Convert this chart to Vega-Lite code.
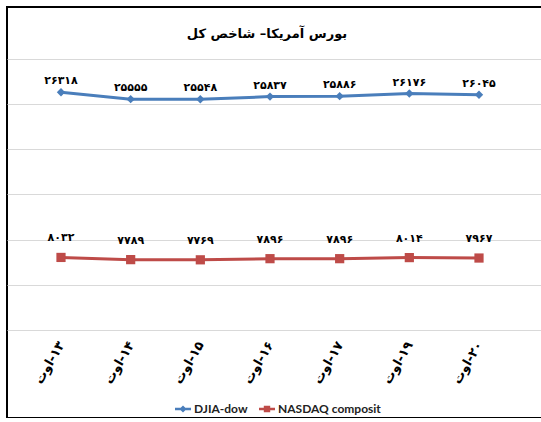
{
  "$schema": "https://vega.github.io/schema/vega-lite/v6.json",
  "width": 540,
  "height": 411,
  "autosize": "none",
  "padding": {"left": 7, "top": 7, "right": 0, "bottom": 0},
  "background": "white",
  "title": {"text": "بورس آمریکا– شاخص کل", "offset": -34, "dx": -10, "font": "DejaVu Sans", "fontSize": 13, "fontWeight": "bold", "anchor": "middle", "color": "black"},
  "data": {"values": [
    {"date": "\u200f۱۳-اوت", "series": "DJIA-dow", "value": 26318, "label": "۲۶۳۱۸"},
    {"date": "\u200f۱۴-اوت", "series": "DJIA-dow", "value": 25555, "label": "۲۵۵۵۵"},
    {"date": "\u200f۱۵-اوت", "series": "DJIA-dow", "value": 25548, "label": "۲۵۵۴۸"},
    {"date": "\u200f۱۶-اوت", "series": "DJIA-dow", "value": 25837, "label": "۲۵۸۳۷"},
    {"date": "\u200f۱۷-اوت", "series": "DJIA-dow", "value": 25886, "label": "۲۵۸۸۶"},
    {"date": "\u200f۱۹-اوت", "series": "DJIA-dow", "value": 26176, "label": "۲۶۱۷۶"},
    {"date": "\u200f۲۰-اوت", "series": "DJIA-dow", "value": 26045, "label": "۲۶۰۴۵"},
    {"date": "\u200f۱۳-اوت", "series": "NASDAQ composit", "value": 8032, "label": "۸۰۳۲"},
    {"date": "\u200f۱۴-اوت", "series": "NASDAQ composit", "value": 7789, "label": "۷۷۸۹"},
    {"date": "\u200f۱۵-اوت", "series": "NASDAQ composit", "value": 7769, "label": "۷۷۶۹"},
    {"date": "\u200f۱۶-اوت", "series": "NASDAQ composit", "value": 7896, "label": "۷۸۹۶"},
    {"date": "\u200f۱۷-اوت", "series": "NASDAQ composit", "value": 7896, "label": "۷۸۹۶"},
    {"date": "\u200f۱۹-اوت", "series": "NASDAQ composit", "value": 8014, "label": "۸۰۱۴"},
    {"date": "\u200f۲۰-اوت", "series": "NASDAQ composit", "value": 7967, "label": "۷۹۶۷"}
  ]},
  "encoding": {
    "x": {"field": "date", "type": "nominal", "sort": null,
      "scale": {"type": "point", "padding": 0.8756, "align": 0.4426},
      "axis": {"title": null, "orient": "bottom", "offset": -88, "ticks": false, "domain": false, "grid": false,
        "labelAngle": -60, "labelAlign": "right", "labelBaseline": "middle", "labelPadding": 12,
        "labelFont": "DejaVu Sans", "labelFontWeight": "bold", "labelFontSize": 13, "labelColor": "black"}},
    "y": {"field": "value", "type": "quantitative",
      "scale": {"domain": [-9742, 35756], "nice": false, "zero": false},
      "axis": {"values": [0, 5000, 10000, 15000, 20000, 25000, 30000], "labels": false, "ticks": false, "domain": false, "title": null, "gridColor": "#d9d9d9", "gridWidth": 1}},
    "color": {"field": "series", "type": "nominal", "sort": null,
      "scale": {"domain": ["DJIA-dow", "NASDAQ composit"], "range": ["#4a7ebb", "#be4b48"]},
      "legend": {"orient": "none", "legendX": 168, "legendY": 394, "direction": "horizontal", "title": null, "padding": 0,
        "symbolSize": 256, "symbolStrokeWidth": 0, "labelFont": "Lato", "labelFontSize": 12, "labelFontWeight": "bold", "labelColor": "#222222",
        "columnPadding": 11, "labelOffset": 3,
        "encode": {"symbols": {"update": {
          "shape": {"signal": "datum.value === 'DJIA-dow' ? 'M-1,-0.15H1V0.15H-1ZM0,-0.45L0.45,0L0,0.45L-0.45,0Z' : 'M-1,-0.15H1V0.15H-1ZM-0.4,-0.4H0.4V0.4H-0.4Z'"},
          "fill": {"signal": "scale('color', datum.value)"},
          "fillOpacity": {"value": 1},
          "strokeWidth": {"value": 0}}}}}}
  },
  "layer": [
    {"mark": {"type": "line", "strokeWidth": 3}},
    {"transform": [{"filter": "datum.series === 'DJIA-dow'"}],
      "mark": {"type": "point", "filled": true, "opacity": 1, "shape": "diamond", "size": 70}},
    {"transform": [{"filter": "datum.series === 'NASDAQ composit'"}],
      "mark": {"type": "point", "filled": true, "opacity": 1, "shape": "square", "size": 85}},
    {"transform": [{"filter": "datum.series === 'DJIA-dow'"}],
      "mark": {"type": "text", "dy": -11, "font": "DejaVu Sans", "fontWeight": "bold", "fontSize": 11},
      "encoding": {"text": {"field": "label"}, "color": {"value": "black"}}},
    {"transform": [{"filter": "datum.series === 'NASDAQ composit'"}],
      "mark": {"type": "text", "dy": -19, "font": "DejaVu Sans", "fontWeight": "bold", "fontSize": 11},
      "encoding": {"text": {"field": "label"}, "color": {"value": "black"}}}
  ],
  "config": {"view": {"stroke": "black", "strokeWidth": 2}}
}
